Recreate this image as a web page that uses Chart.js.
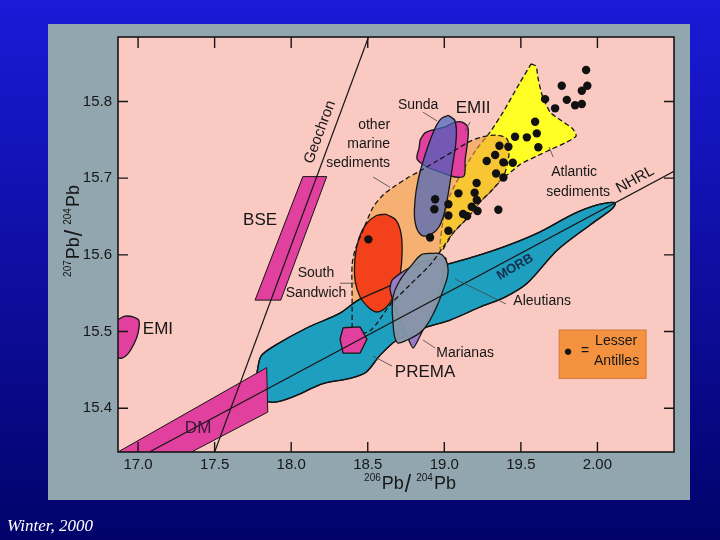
<!DOCTYPE html>
<html>
<head>
<meta charset="utf-8">
<script src="https://cdn.jsdelivr.net/npm/chart.js@4.4.1/dist/chart.umd.min.js"></script>
<style>
  html, body { margin: 0; padding: 0; background: #02026a; }
  canvas { display: block; }
</style>
</head>
<body>
<canvas id="pb" width="720" height="540"></canvas>
<script>
// axis ticks
const xTicks = [17.0, 17.5, 18.0, 18.5, 19.0, 19.5, 20.0];
const xTickLabels = ['17.0', '17.5', '18.0', '18.5', '19.0', '19.5', '2.00'];
const yTicks = [15.4, 15.5, 15.6, 15.7, 15.8];
const yTickLabels = ['15.4', '15.5', '15.6', '15.7', '15.8'];

// reference lines  [206Pb/204Pb, 207Pb/204Pb]
const geochron = [[17.50, 15.343], [18.505, 15.884]];
const nhrl = [[17.074, 15.343], [20.50, 15.709]];

// fields (outlines)
const atlanticSed = [[19.567, 15.849], [19.599, 15.846], [19.612, 15.8305], [19.639, 15.808], [19.691, 15.786],
  [19.756, 15.776], [19.835, 15.765], [19.861, 15.755], [19.789, 15.746], [19.691, 15.737], [19.606, 15.729],
  [19.495, 15.718], [19.410, 15.704], [19.384, 15.7015], [19.312, 15.6845], [19.234, 15.669], [19.155, 15.649],
  [19.057, 15.6285], [18.979, 15.604], [18.972, 15.613], [18.992, 15.645], [19.038, 15.678], [19.116, 15.708],
  [19.2075, 15.737], [19.299, 15.760], [19.384, 15.786], [19.495, 15.825]];
const marineSed = [[18.398, 15.505], [18.398, 15.541], [18.398, 15.587], [18.417, 15.606], [18.469, 15.632],
  [18.535, 15.662], [18.600, 15.678], [18.665, 15.688], [18.757, 15.700], [18.829, 15.708], [18.940, 15.721],
  [19.051, 15.734], [19.168, 15.748], [19.253, 15.754], [19.345, 15.756], [19.410, 15.751], [19.423, 15.734],
  [19.410, 15.717], [19.384, 15.7015], [19.312, 15.6845], [19.234, 15.669], [19.155, 15.649], [19.057, 15.6285],
  [18.992, 15.610], [18.907, 15.587], [18.776, 15.561], [18.646, 15.5346], [18.515, 15.501], [18.417, 15.498]];
const emii = [[18.842, 15.750], [18.874, 15.759], [18.927, 15.763], [19.005, 15.7667], [19.070, 15.773],
  [19.116, 15.773], [19.155, 15.7653], [19.149, 15.743], [19.136, 15.7236], [19.129, 15.7028], [19.070, 15.7015],
  [18.972, 15.708], [18.887, 15.7145], [18.822, 15.725], [18.835, 15.7393]];
const sunda = [[19.025, 15.782], [19.070, 15.7745], [19.077, 15.750], [19.057, 15.721], [19.038, 15.695],
  [19.0115, 15.665], [18.972, 15.639], [18.9135, 15.627], [18.848, 15.626], [18.809, 15.643], [18.809, 15.6715],
  [18.829, 15.6976], [18.868, 15.7262], [18.920, 15.756], [18.972, 15.776]];
const morb = [[17.777, 15.447], [17.803, 15.468], [17.895, 15.482], [18.104, 15.505], [18.319, 15.524],
  [18.430, 15.540], [18.580, 15.554], [18.776, 15.571], [18.972, 15.585], [19.201, 15.598], [19.410, 15.612],
  [19.626, 15.630], [19.841, 15.653], [19.998, 15.665], [20.115, 15.668], [20.096, 15.660], [19.952, 15.639],
  [19.737, 15.606], [19.541, 15.563], [19.397, 15.545], [19.234, 15.532], [19.038, 15.515], [18.887, 15.506],
  [18.691, 15.489], [18.580, 15.469], [18.489, 15.447], [18.384, 15.439], [18.208, 15.432], [18.012, 15.415],
  [17.895, 15.408], [17.823, 15.411], [17.783, 15.426]];
const southSandwich = [[18.620, 15.653], [18.685, 15.645], [18.718, 15.627], [18.724, 15.600], [18.711, 15.574],
  [18.678, 15.550], [18.627, 15.533], [18.561, 15.5255], [18.502, 15.532], [18.450, 15.545], [18.417, 15.567],
  [18.417, 15.596], [18.443, 15.622], [18.489, 15.640], [18.554, 15.651]];
const marianas = [[19.012, 15.596], [18.985, 15.567], [18.927, 15.531], [18.848, 15.497], [18.796, 15.4785],
  [18.757, 15.494], [18.698, 15.5215], [18.646, 15.554], [18.659, 15.567], [18.744, 15.580], [18.874, 15.592]];
const aleutians = [[18.894, 15.602], [18.985, 15.600], [19.025, 15.580], [18.992, 15.554], [18.940, 15.528],
  [18.861, 15.502], [18.757, 15.489], [18.691, 15.486], [18.665, 15.511], [18.665, 15.545], [18.711, 15.567],
  [18.796, 15.589], [18.848, 15.600]];
const prema = [[18.339, 15.505], [18.450, 15.506], [18.495, 15.490], [18.450, 15.472], [18.339, 15.472], [18.319, 15.490]];
const dm = [[16.860, 15.342], [17.840, 15.453], [17.847, 15.395], [17.339, 15.342]];
const bse = [[17.764, 15.541], [18.076, 15.702], [18.232, 15.702], [17.932, 15.541]];
const emi = [[16.862, 15.515], [16.915, 15.520], [16.967, 15.519], [17.006, 15.514], [17.000, 15.498],
  [16.974, 15.484], [16.934, 15.471], [16.895, 15.4655], [16.862, 15.467]];

// leader lines from labels
const leaders = [
  [[18.861, 15.786], [18.953, 15.7745]],
  [[19.168, 15.773], [19.136, 15.7615]],
  [[18.535, 15.7015], [18.646, 15.688]],
  [[18.319, 15.563], [18.423, 15.563]],
  [[19.070, 15.5685], [19.403, 15.536]],
  [[18.861, 15.489], [18.940, 15.4785]],
  [[18.535, 15.468], [18.659, 15.455]],
  [[19.684, 15.7406], [19.711, 15.7275]]
];

// Lesser Antilles samples
const lesserAntilles = [[19.926, 15.841], [19.767, 15.8205], [19.934, 15.8205], [19.898, 15.814], [19.658, 15.803],
  [19.800, 15.802], [19.854, 15.795], [19.898, 15.7966], [19.7235, 15.791], [19.593, 15.7736], [19.604, 15.7584],
  [19.539, 15.7532], [19.462, 15.754], [19.614, 15.7402], [19.360, 15.7423], [19.4185, 15.741], [19.332, 15.7302],
  [19.277, 15.7223], [19.386, 15.7206], [19.447, 15.7201], [19.338, 15.706], [19.386, 15.7008], [19.211, 15.6936],
  [19.092, 15.6802], [19.198, 15.681], [19.212, 15.6715], [18.940, 15.6724], [19.0265, 15.6659], [18.935, 15.6594],
  [19.179, 15.6627], [19.217, 15.6571], [19.1225, 15.6532], [19.149, 15.6506], [19.0265, 15.6513], [19.353, 15.6588],
  [19.0265, 15.6315], [18.907, 15.6226], [18.504, 15.6202]];

const fam = '"Liberation Sans", Arial, Helvetica, sans-serif';
const ink = '#161616';

const notes = [
  {text: 'Geochron', x: 18.188, y: 15.760, size: 15, rot: -69.7},
  {text: 'BSE', x: 17.797, y: 15.645, size: 17},
  {text: 'EMI', x: 17.130, y: 15.503, size: 17},
  {text: 'DM', x: 17.392, y: 15.374, size: 17, color: '#3a1838'},
  {text: 'South', x: 18.162, y: 15.576, size: 14},
  {text: 'Sandwich', x: 18.162, y: 15.550, size: 14},
  {text: 'PREMA', x: 18.874, y: 15.447, size: 17},
  {text: 'Marianas', x: 19.136, y: 15.472, size: 14},
  {text: 'Aleutians', x: 19.639, y: 15.540, size: 14},
  {text: 'MORB', x: 19.462, y: 15.584, size: 13, bold: true, rot: -30, color: '#15304c'},
  {text: 'NHRL', x: 20.246, y: 15.698, size: 15, rot: -29},
  {text: 'Atlantic', x: 19.848, y: 15.708, size: 14},
  {text: 'sediments', x: 19.874, y: 15.682, size: 14},
  {text: 'other', x: 18.646, y: 15.769, size: 14, align: 'right'},
  {text: 'marine', x: 18.646, y: 15.744, size: 14, align: 'right'},
  {text: 'sediments', x: 18.646, y: 15.7196, size: 14, align: 'right'},
  {text: 'Sunda', x: 18.829, y: 15.795, size: 14},
  {text: 'EMII', x: 19.188, y: 15.7914, size: 17}
];

const pts = a => a.map(([x, y]) => ({x, y}));
const closed = a => pts(a.concat([a[0]]));

const layers = [];
function field(data, fillColor, opt) {
  layers.push(Object.assign({
    data: closed(data), showLine: true,
    fill: fillColor ? 'shape' : false,
    backgroundColor: fillColor || 'rgba(0,0,0,0)',
    borderColor: ink, borderWidth: 1.3, tension: 0.35, pointRadius: 0
  }, opt || {}));
}
function line(data, opt) {
  layers.push(Object.assign({
    data: pts(data), showLine: true, fill: false,
    borderColor: ink, borderWidth: 1.2, tension: 0, pointRadius: 0
  }, opt || {}));
}

// bottom to top
field(atlanticSed, '#ffff26', {borderDash: [5, 3], tension: 0.2});
field(marineSed, 'rgba(243,160,59,0.6)', {borderWidth: 0});
field(emii, '#e2409e', {tension: 0.3});
field(sunda, 'rgba(70,100,190,0.7)', {tension: 0.4});
field(morb, '#1f9fc0', {tension: 0.3});
field(southSandwich, '#f3421b', {tension: 0.4});
field(morb, null, {tension: 0.3});
field(marianas, '#9a7cc6', {tension: 0.2});
field(aleutians, 'rgba(134,150,168,0.95)', {tension: 0.4});
field(marineSed, null, {borderDash: [5, 3], tension: 0.3});
field(prema, '#e2409e', {tension: 0});
field(dm, '#e2409e', {tension: 0, borderWidth: 1});
field(bse, '#e2409e', {tension: 0, borderWidth: 1});
field(emi, '#e2409e', {tension: 0.3});
line(geochron);
line(nhrl);
leaders.forEach(l => line(l, {borderWidth: 0.8, borderColor: '#444'}));
layers.push({
  data: pts(lesserAntilles), showLine: false,
  pointRadius: 4.2, pointBackgroundColor: '#111', pointBorderWidth: 0
});
layers.forEach((d, i) => { d.order = layers.length - i; });

const slide = {
  id: 'slide',
  beforeDraw(chart) {
    const {ctx, chartArea: a} = chart;
    ctx.save();
    const g = ctx.createLinearGradient(0, 0, 0, chart.height);
    g.addColorStop(0, '#1a1ad8');
    g.addColorStop(1, '#02026a');
    ctx.fillStyle = g;
    ctx.fillRect(0, 0, chart.width, chart.height);
    ctx.fillStyle = '#92a6b0';
    ctx.fillRect(48, 24, 642, 476);
    ctx.fillStyle = '#f9c9c2';
    ctx.fillRect(a.left, a.top, a.right - a.left, a.bottom - a.top);
    ctx.restore();
  }
};

function isoTitle(ctx, mass) {
  const parts = [
    [mass, '10px ' + fam, -8, 1],
    ['Pb', '18px ' + fam, 0, 1],
    ['/', '23px ' + fam, 3, 5],
    ['204', '10px ' + fam, -8, 1],
    ['Pb', '18px ' + fam, 0, 0]
  ];
  let w = 0;
  parts.forEach(p => { ctx.font = p[1]; p.push(ctx.measureText(p[0]).width); w += p[4] + p[3]; });
  let x = -w / 2;
  ctx.textAlign = 'left';
  ctx.textBaseline = 'alphabetic';
  parts.forEach(p => {
    ctx.font = p[1];
    ctx.fillText(p[0], x, p[2]);
    x += p[4] + p[3];
  });
}

const overlay = {
  id: 'overlay',
  afterDatasetsDraw(chart) {
    const {ctx, chartArea: a, scales: {x, y}} = chart;
    ctx.save();
    ctx.strokeStyle = ink;
    ctx.lineWidth = 1.6;
    ctx.strokeRect(a.left, a.top, a.right - a.left, a.bottom - a.top);
    ctx.lineWidth = 1.4;
    ctx.beginPath();
    xTicks.forEach(v => {
      const px = x.getPixelForValue(v);
      ctx.moveTo(px, a.bottom); ctx.lineTo(px, a.bottom - 10);
      ctx.moveTo(px, a.top); ctx.lineTo(px, a.top + 11);
    });
    yTicks.forEach(v => {
      const py = y.getPixelForValue(v);
      ctx.moveTo(a.left, py); ctx.lineTo(a.left + 10, py);
      ctx.moveTo(a.right, py); ctx.lineTo(a.right - 10, py);
    });
    ctx.stroke();

    // field labels
    ctx.textBaseline = 'middle';
    notes.forEach(n => {
      ctx.save();
      ctx.translate(x.getPixelForValue(n.x), y.getPixelForValue(n.y));
      if (n.rot) ctx.rotate(n.rot * Math.PI / 180);
      ctx.font = (n.bold ? 'bold ' : '') + n.size + 'px ' + fam;
      ctx.fillStyle = n.color || ink;
      ctx.textAlign = n.align || 'center';
      ctx.fillText(n.text, 0, 0);
      ctx.restore();
    });

    // key box
    const bx0 = x.getPixelForValue(19.750), bx1 = x.getPixelForValue(20.318);
    const by0 = y.getPixelForValue(15.502), by1 = y.getPixelForValue(15.439);
    ctx.fillStyle = '#f5923f';
    ctx.fillRect(bx0, by0, bx1 - bx0, by1 - by0);
    ctx.strokeStyle = '#d07a3a';
    ctx.lineWidth = 1;
    ctx.strokeRect(bx0, by0, bx1 - bx0, by1 - by0);
    ctx.fillStyle = ink;
    ctx.textAlign = 'center';
    ctx.font = '14px ' + fam;
    ctx.fillText('Lesser', x.getPixelForValue(20.122), y.getPixelForValue(15.488));
    ctx.fillText('Antilles', x.getPixelForValue(20.125), y.getPixelForValue(15.462));
    ctx.fillText('=', x.getPixelForValue(19.919), y.getPixelForValue(15.474));
    ctx.font = '15px ' + fam;
    ctx.fillText('\u25CF', x.getPixelForValue(19.808), y.getPixelForValue(15.474));

    // axis titles
    ctx.fillStyle = ink;
    ctx.save();
    ctx.translate(410, 489);
    isoTitle(ctx, '206');
    ctx.restore();
    ctx.save();
    ctx.translate(79, 231);
    ctx.rotate(-Math.PI / 2);
    isoTitle(ctx, '207');
    ctx.restore();

    // credit
    ctx.fillStyle = '#ffffff';
    ctx.font = 'italic 17px "Liberation Serif", "Times New Roman", serif';
    ctx.textAlign = 'left';
    ctx.textBaseline = 'alphabetic';
    ctx.fillText('Winter, 2000', 7, 531);
    ctx.restore();
  }
};

new Chart(document.getElementById('pb'), {
  type: 'scatter',
  data: {datasets: layers},
  options: {
    responsive: false,
    animation: false,
    devicePixelRatio: 1,
    events: [],
    layout: {padding: {left: 48, right: 46, top: 37, bottom: 0}},
    plugins: {legend: {display: false}, tooltip: {enabled: false}},
    scales: {
      x: {
        type: 'linear', min: 16.869, max: 20.5,
        afterBuildTicks: s => { s.ticks = xTicks.map(v => ({value: v})); },
        afterFit: s => { s.height = 88; },
        grid: {display: false, drawTicks: false},
        border: {display: false},
        ticks: {padding: 4, color: '#161616', font: {family: fam, size: 15},
          callback: (v, i) => xTickLabels[i]}
      },
      y: {
        type: 'linear', min: 15.343, max: 15.884,
        afterBuildTicks: s => { s.ticks = yTicks.map(v => ({value: v})); },
        afterFit: s => { s.width = 70; },
        grid: {display: false, drawTicks: false},
        border: {display: false},
        ticks: {padding: 6, color: '#161616', font: {family: fam, size: 15},
          callback: (v, i) => yTickLabels[i]}
      }
    }
  },
  plugins: [slide, overlay]
});
</script>
</body>
</html>
